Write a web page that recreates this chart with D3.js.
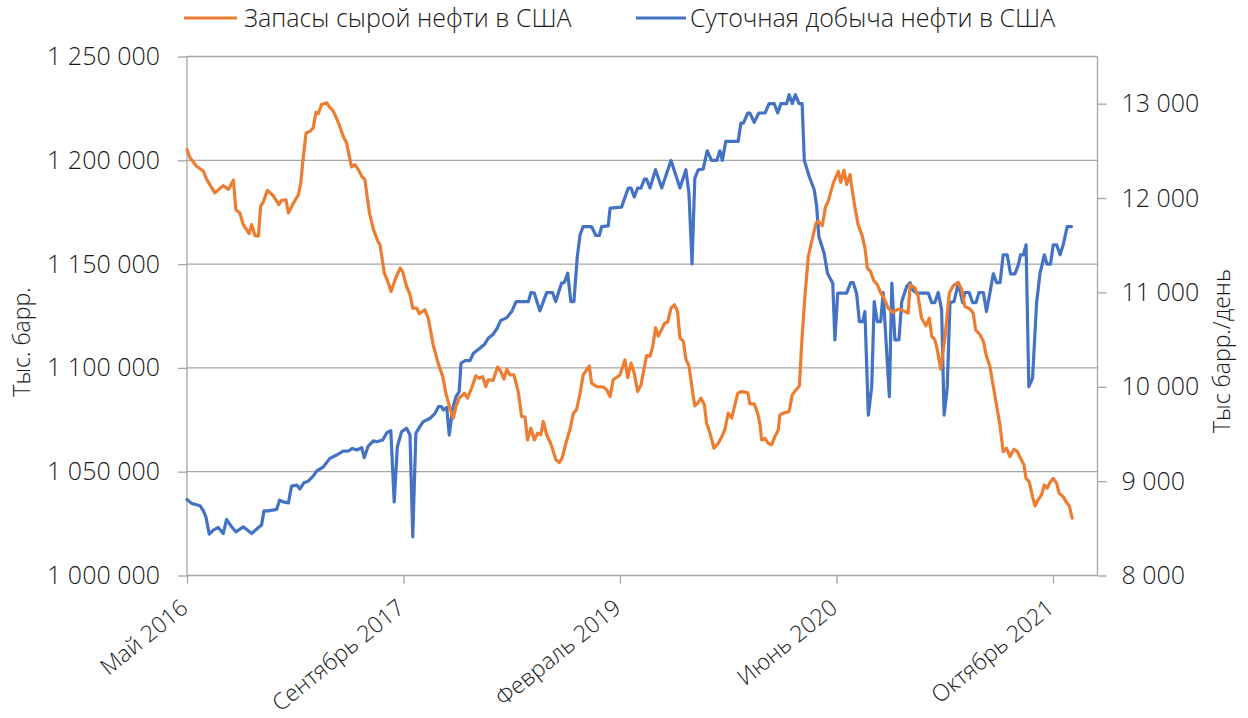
<!DOCTYPE html>
<html>
<head>
<meta charset="utf-8">
<script src="https://cdn.jsdelivr.net/npm/d3@7"></script>
<style>
  html, body { margin: 0; padding: 0; background: #fff; }
  svg { display: block; font-family: "Open Sans", "Noto Sans", sans-serif; }
</style>
</head>
<body>
<svg id="chart" width="1248" height="718"></svg>
<script>
// ---- DATA (week index from end of May 2016, value) ----
const stocks = [[0,1205200],[1,1201200],[3.1,1197100],[5.3,1194700],[6.4,1190700],[9,1184300],[11.7,1187800],[13.4,1186000],[15,1190400],[15.8,1176200],[17.1,1174600],[18.2,1169000],[20.1,1164700],[20.9,1169000],[22,1163700],[23.1,1163500],[23.8,1177800],[24.7,1180000],[26,1185500],[27.7,1183300],[29.7,1178600],[30.6,1180700],[32,1181000],[32.8,1174600],[34.4,1179400],[36,1183300],[36.8,1189100],[37.4,1198700],[38.5,1213200],[39.8,1214000],[40.8,1215600],[41.7,1223100],[42.5,1222500],[43.5,1226900],[45.2,1227700],[46,1225800],[47.3,1223700],[49,1218000],[50.5,1211600],[51.6,1208400],[53.2,1196800],[54.3,1197900],[55.4,1195500],[56.5,1192300],[57.5,1190700],[59,1174600],[60.3,1166600],[61.7,1161000],[62.4,1159400],[63.8,1145700],[64.9,1141700],[66,1136800],[67.5,1143300],[68.9,1148100],[69.7,1146500],[71,1139300],[72.1,1135300],[73,1128800],[74.3,1128800],[75.1,1126100],[76.9,1128000],[78,1124000],[79.6,1111100],[81.2,1102300],[82.7,1095800],[83.7,1087800],[85,1080600],[86.1,1075800],[87,1081400],[88,1085400],[89.7,1087800],[90.7,1085400],[92,1090200],[93.4,1096200],[94.5,1095000],[95.6,1095800],[96.6,1091000],[97.4,1094300],[99,1094000],[100.4,1100400],[101.2,1099000],[102.5,1094600],[103.4,1099300],[104.4,1096600],[105.7,1096600],[107.1,1088600],[108.2,1076600],[109.3,1076300],[110.1,1065300],[111.2,1071000],[112.3,1065300],[113.4,1068600],[114.4,1067800],[115.2,1074200],[116.3,1067800],[117.6,1063700],[119.3,1055700],[120.4,1054400],[121.3,1056500],[122.5,1063700],[123.8,1070200],[124.9,1077900],[126,1080100],[127.1,1087800],[128.1,1096600],[130.1,1101000],[130.8,1092700],[132.5,1091000],[134.6,1090800],[135.7,1089500],[136.8,1086200],[137.8,1094300],[140,1096600],[141.6,1103900],[142.5,1095300],[143.6,1102300],[144.6,1097500],[145.7,1088600],[146.8,1091800],[148.6,1105900],[149.7,1105600],[150.6,1110400],[151.5,1119300],[152.4,1115300],[153.7,1119300],[154.5,1121600],[155.4,1122000],[156.5,1128800],[157.6,1130400],[158.6,1127200],[159.4,1114400],[160.5,1112800],[161.3,1104200],[162.3,1101000],[163.4,1089400],[164.2,1081700],[165.3,1083300],[166.2,1085400],[167.3,1082200],[168,1073400],[169.1,1068600],[170.4,1061300],[171.8,1063700],[172.9,1066900],[173.9,1070200],[175,1078200],[176.1,1075800],[176.9,1080600],[178.1,1087800],[179.3,1088600],[181.3,1088100],[182,1082700],[183.4,1082700],[184.5,1078200],[185.3,1072600],[185.8,1065300],[186.9,1066100],[187.9,1063700],[189,1062900],[190.1,1066900],[191.2,1070200],[191.7,1077400],[192.8,1078200],[194.7,1079000],[195.7,1087000],[197.1,1089700],[198,1091300],[198.7,1110400],[199.8,1134500],[200.9,1153700],[202,1161000],[203.4,1169800],[204.1,1170600],[205.4,1168500],[206.5,1177800],[207.3,1180200],[209,1189100],[210.6,1194700],[211.4,1189400],[212.4,1195200],[213.3,1188400],[214.4,1193200],[214.9,1187500],[216,1177000],[217,1169000],[218.3,1163700],[219.2,1157800],[220,1148100],[221,1146500],[222.1,1142000],[223.2,1140100],[224.3,1136100],[225.3,1133700],[226.7,1128800],[228.4,1126700],[229.5,1128000],[230.5,1128300],[232.1,1127200],[233.2,1126400],[233.8,1140100],[235.4,1138500],[236.4,1134500],[237.5,1124000],[238.9,1120300],[240,1124000],[240.8,1115200],[241.8,1113600],[242.6,1108800],[243.7,1099400],[245.1,1115000],[246.5,1136100],[247.8,1139600],[249.4,1141200],[250.5,1137700],[251.5,1129700],[253.2,1128300],[254.2,1126400],[255,1118400],[256.4,1116000],[257.5,1112800],[258.5,1105600],[259.6,1100800],[260.7,1091200],[261.8,1081600],[262.9,1072000],[263.9,1059700],[265,1061300],[266.1,1057300],[267.4,1060800],[268.5,1059700],[269.5,1056500],[270.6,1053300],[271.3,1046800],[272.3,1045200],[273.4,1038000],[274.2,1033500],[275.2,1036400],[276.3,1038800],[277.2,1043600],[278.1,1042000],[279,1044700],[280.1,1046800],[281.2,1044400],[282,1039600],[283.3,1038000],[284.4,1035200],[285.3,1033500],[286.2,1027600]];

const production = [[0,8806],[1.5,8764],[3.1,8750],[4.2,8740],[5.3,8685],[6.1,8622],[7.2,8438],[8.5,8480],[10.1,8509],[11.7,8445],[12.8,8594],[14.4,8516],[15.8,8463],[18.2,8516],[20.9,8445],[23.1,8509],[24.1,8534],[24.9,8685],[26.3,8685],[29,8700],[29.9,8799],[31.1,8780],[32.8,8770],[33.8,8947],[35.5,8958],[36.5,8916],[37.8,8983],[39.2,9000],[40.8,9053],[41.9,9106],[44.1,9152],[46.2,9241],[48.4,9277],[50.5,9319],[52.2,9319],[53.5,9347],[54.9,9330],[56.5,9354],[57.3,9248],[58.6,9372],[60.3,9428],[61.3,9418],[63.3,9436],[64.6,9513],[65.9,9534],[67,8781],[68,9364],[69.4,9524],[71,9560],[72.1,9488],[73,8410],[74,9506],[75.3,9577],[76.4,9630],[78.6,9666],[80.2,9719],[81.3,9789],[82.3,9789],[82.9,9754],[84,9780],[84.8,9488],[85.9,9770],[87,9895],[88,9948],[88.6,10249],[89.9,10277],[91.5,10277],[92.6,10355],[94.7,10408],[96.3,10454],[97.4,10514],[99,10557],[100.3,10620],[101.4,10701],[103.4,10733],[105,10797],[106.4,10903],[110.4,10903],[111.2,10998],[112.3,10993],[114.1,10804],[116.3,10998],[118.2,10998],[119.2,10903],[121.1,11098],[122,11105],[123.1,11204],[124.1,10903],[125.1,10903],[126.2,11380],[127.1,11610],[128.1,11698],[130.8,11698],[132.2,11603],[133.3,11603],[134.1,11698],[136.2,11705],[136.8,11893],[140.5,11904],[142.7,12106],[143.6,12106],[144.6,12010],[145.7,12106],[146.8,12106],[147.9,12201],[148.6,12201],[149.7,12106],[151.5,12300],[153.5,12106],[156.5,12399],[159.4,12106],[161.3,12300],[162.3,12053],[163.3,11303],[164.2,12212],[165.3,12300],[166.9,12307],[168.2,12501],[169.6,12399],[171.3,12399],[172.3,12501],[173.1,12399],[174.2,12600],[178.2,12600],[179.1,12795],[179.9,12795],[181.3,12901],[182,12901],[183.4,12802],[184.9,12901],[186.9,12901],[188.2,13000],[189.9,13000],[191,12901],[192,13000],[193.9,13000],[194.7,13095],[195.7,13000],[196.7,13095],[197.9,13000],[198.9,13000],[199.6,12399],[201.2,12229],[202.8,12088],[203.6,11911],[204.3,11592],[206,11416],[207.1,11204],[208.2,11133],[208.8,11098],[209.5,10497],[210.4,10992],[213.3,10992],[214.6,11104],[215.4,11104],[216.5,10992],[217.4,10690],[218.5,10690],[219.2,10797],[220.3,9700],[221.4,10001],[222.2,10903],[223.2,10690],[224.3,10690],[225.1,10999],[226.2,10390],[227.1,9895],[227.9,11098],[228.9,10497],[230.2,10497],[231.1,10903],[232.7,11062],[233.8,11104],[234.6,11027],[235.9,10992],[239.7,10992],[240.8,10892],[241.8,10892],[242.9,10999],[244,10815],[244.8,9700],[245.8,9984],[246.7,10892],[248,10903],[249.4,11098],[250.8,10892],[251.5,10999],[252.9,10999],[254,10892],[255.1,10892],[256.1,10999],[257.5,10999],[258.5,10797],[259.6,10992],[260.7,11196],[261.8,11104],[262.9,11104],[263.9,11398],[265.2,11398],[266.3,11196],[267.7,11196],[268.8,11292],[269.5,11398],[270.4,11398],[271.3,11504],[272.2,10001],[273.4,10090],[274.7,10885],[275.8,11200],[277.2,11398],[278.1,11300],[279.2,11300],[280.1,11504],[281.2,11504],[282.3,11398],[283.3,11504],[284.6,11698],[286,11698]];

const xTickWeeks  = [0, 70, 140, 210, 280];
const xTickLabels = ["Май 2016", "Сентябрь 2017", "Февраль 2019", "Июнь 2020", "Октябрь 2021"];
const leftTicks   = [1000000, 1050000, 1100000, 1150000, 1200000, 1250000];
const rightTicks  = [8000, 9000, 10000, 11000, 12000, 13000];
const seriesNames = ["Запасы сырой нефти в США", "Суточная добыча нефти в США"];
const seriesColors = ["#ED7D31", "#4472C4"];
const leftTitle  = "Тыс. барр.";
const rightTitle = "Тыс барр./день";

// ---- LAYOUT ----
const svg = d3.select("#chart");
const L = 187, R = 1097.5, T = 56.5, B = 575.5;
const axisColor = "#a6a6a6", textColor = "#1a1a1a";
const FONT = '"Open Sans", "Noto Sans", sans-serif';
const FS = "25px", FW = 300;

const x  = d3.scaleLinear().domain([0, 294.4]).range([L, R]);
const yL = d3.scaleLinear().domain([1000000, 1250000]).range([B, T]);
const yR = d3.scaleLinear().domain([8000, 13500]).range([B, T]);

const fmt = v => d3.format(",")(v).replace(/,/g, "\u00a0");

// gridlines
svg.append("g").selectAll("line").data(leftTicks.slice(1)).join("line")
  .attr("x1", L).attr("x2", R)
  .attr("y1", d => yL(d)).attr("y2", d => yL(d))
  .attr("stroke", axisColor).attr("stroke-width", 1.3);

// left axis
const gL = svg.append("g").attr("transform", `translate(${L},0)`)
  .call(d3.axisLeft(yL).tickValues(leftTicks).tickSize(9).tickPadding(18).tickFormat(fmt));
// right axis
const gR = svg.append("g").attr("transform", `translate(${R},0)`)
  .call(d3.axisRight(yR).tickValues(rightTicks).tickSize(9).tickPadding(15).tickFormat(fmt));
// bottom axis
const gB = svg.append("g").attr("transform", `translate(0,${B})`)
  .call(d3.axisBottom(x).tickValues(xTickWeeks).tickSize(8).tickFormat((d, i) => xTickLabels[i]));

[gL, gR, gB].forEach(g => {
  g.select(".domain").attr("stroke", axisColor).attr("stroke-width", 1.3);
  g.selectAll(".tick line").attr("stroke", axisColor).attr("stroke-width", 1.3);
  g.selectAll("text").attr("fill", textColor).style("font-size", FS).style("font-weight", FW)
    .style("font-family", FONT);
});
gL.select(".domain").attr("d", `M0,${B}V${T}`);
gR.select(".domain").attr("d", `M0,${B}V${T}`);
gB.select(".domain").attr("d", `M${L},0H${R}`);

gB.selectAll(".tick text")
  .style("font-size", "23px")
  .attr("text-anchor", "end")
  .attr("y", null)
  .attr("dy", null)
  .attr("transform", "translate(2,35) rotate(-39)");

// lines
const lineL = d3.line().x(d => x(d[0])).y(d => yL(d[1]));
const lineR = d3.line().x(d => x(d[0])).y(d => yR(d[1]));
svg.append("path").datum(production).attr("d", lineR)
  .attr("fill", "none").attr("stroke", seriesColors[1]).attr("stroke-width", 3.2)
  .attr("stroke-linejoin", "round").attr("stroke-linecap", "round");
svg.append("path").datum(stocks).attr("d", lineL)
  .attr("fill", "none").attr("stroke", seriesColors[0]).attr("stroke-width", 3.2)
  .attr("stroke-linejoin", "round").attr("stroke-linecap", "round");

// axis titles
svg.append("text").attr("transform", "translate(30,342) rotate(-90)")
  .attr("text-anchor", "middle").attr("fill", textColor)
  .style("font-size", "23px").style("font-weight", FW).text(leftTitle);
svg.append("text").attr("transform", "translate(1230,351) rotate(-90)")
  .attr("text-anchor", "middle").attr("fill", textColor)
  .style("font-size", "23px").style("font-weight", FW).text(rightTitle);

// legend
const legendLine = [[184, 237], [636, 686]];
const legendText = [244, 690];
const lg = svg.append("g");
seriesNames.forEach((name, i) => {
  lg.append("line").attr("x1", legendLine[i][0]).attr("x2", legendLine[i][1])
    .attr("y1", 18).attr("y2", 18)
    .attr("stroke", seriesColors[i]).attr("stroke-width", 3.2);
  lg.append("text").attr("x", legendText[i]).attr("y", 18).attr("dy", "0.36em")
    .attr("fill", textColor).style("font-size", FS).style("font-weight", FW).text(name);
});
</script>
</body>
</html>
